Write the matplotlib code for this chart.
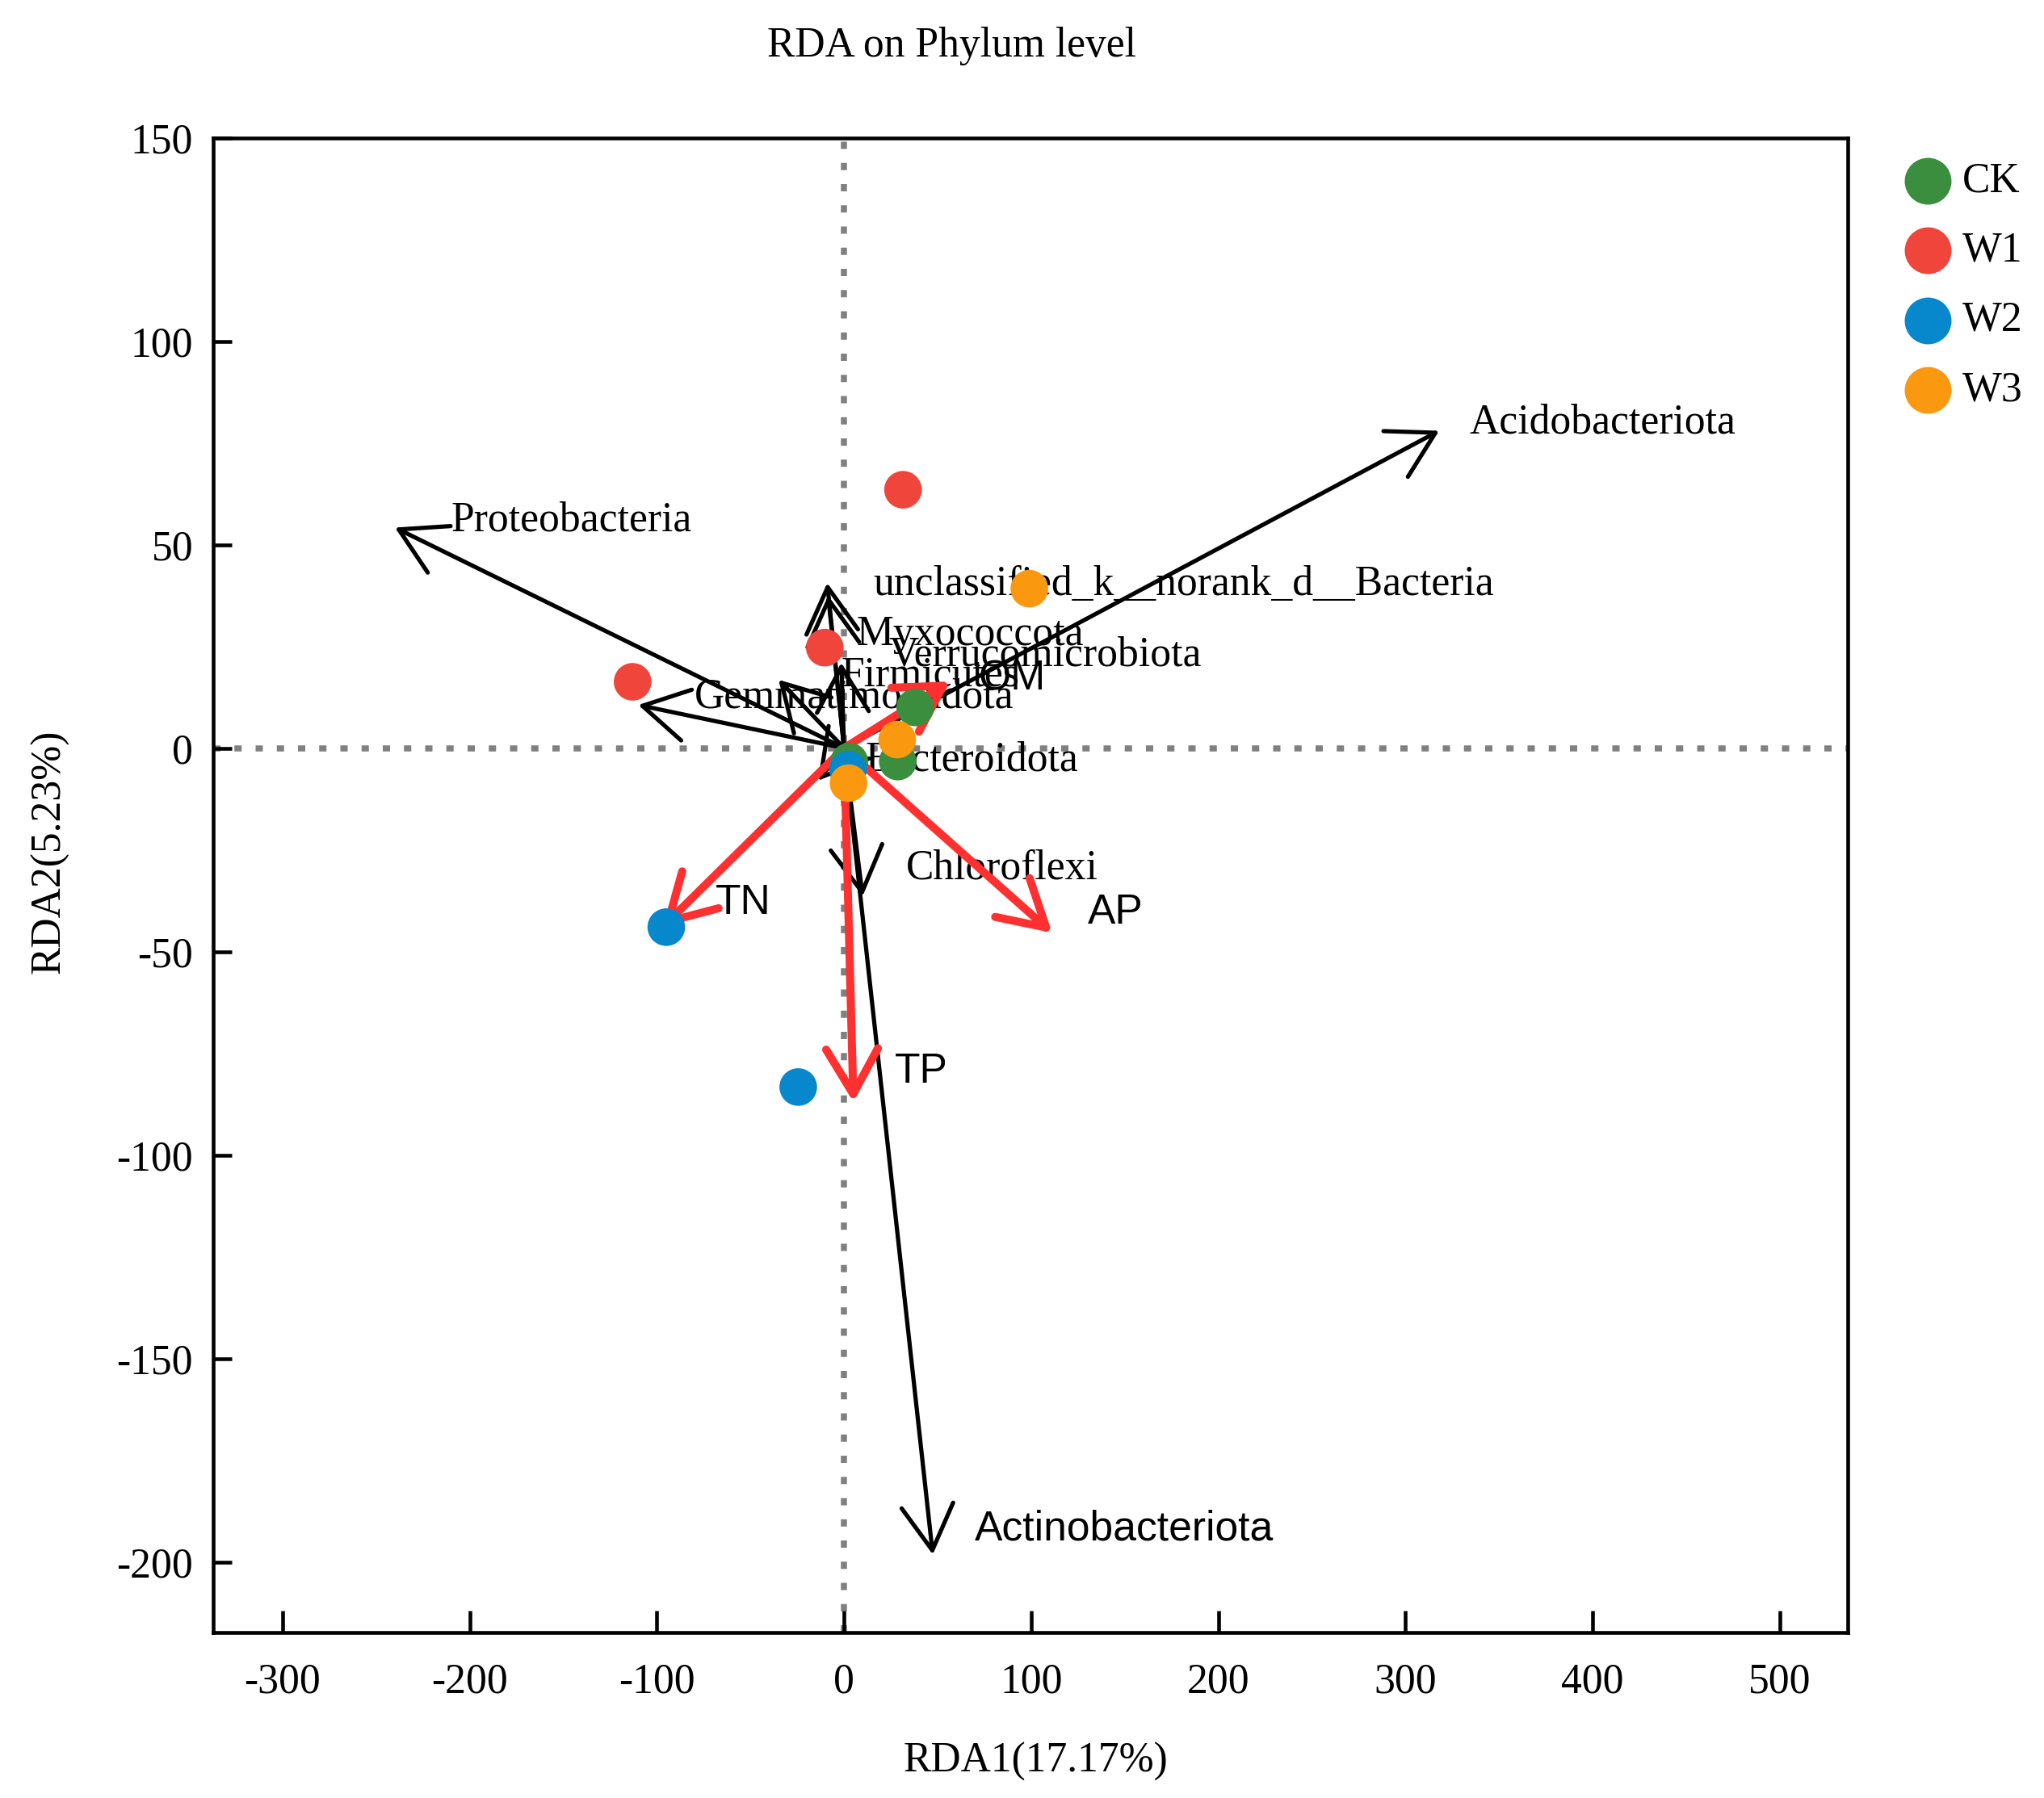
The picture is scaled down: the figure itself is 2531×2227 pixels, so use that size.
import matplotlib
matplotlib.use("Agg")
import matplotlib.pyplot as plt
from matplotlib.patches import FancyArrowPatch, ArrowStyle
from matplotlib.lines import Line2D

plt.rcParams["axes.unicode_minus"] = False

SERIF = "Liberation Serif"
SANS = "Liberation Sans"
FS = 12.4

# species scores (black arrows)
species = ["Acidobacteriota", "Proteobacteria", "Actinobacteriota", "Chloroflexi",
           "Gemmatimonadota", "Bacteroidota", "Myxococcota", "Verrucomicrobiota",
           "Firmicutes", "unclassified_k__norank_d__Bacteria"]
sp_x = [318, -240, 47.4, 9.9, -110, -14, -8.5, -1.5, -35, -9]
sp_y = [78, 54.2, -198.2, -36.4, 10.6, -8, 37.5, 21, 16.8, 40.6]

# environmental factors (red arrows)
env = ["TN", "TP", "AP", "OM"]
env_x = [-97, 5.0, 111.2, 56.7]
env_y = [-44, -87, -45.4, 16.4]

# samples
groups = ["CK", "W1", "W2", "W3"]
ck_x = [38, 28.7, 2.8]
ck_y = [10, -3.3, -3.3]
w1_x = [31.5, -10.3, -113]
w1_y = [63.5, 24.7, 16.3]
w2_x = [-95, -24.5, 2.1]
w2_y = [-44, -83.3, -5.3]
w3_x = [99, 28.4, 2.4]
w3_y = [39.2, 2.1, -8.6]

colors = {"CK": "#3A8E3D", "W1": "#F0453A", "W2": "#0787CC", "W3": "#FA990F"}

# label nudges (data units, from arrow tip)
sp_nudge = {"Acidobacteriota": (16, 2), "Proteobacteria": (30, 1.8),
            "Actinobacteriota": (22.3, 6.2), "Chloroflexi": (23.1, 6.9),
            "Gemmatimonadota": (30, 1.9), "Bacteroidota": (25.4, 5),
            "Myxococcota": (14.9, -9.5), "Verrucomicrobiota": (25.2, 1.8),
            "Firmicutes": (33.5, 1), "unclassified_k__norank_d__Bacteria": (24.5, -0.3)}
env_nudge = {"TN": (28.4, 5.9), "TP": (22.2, 7.5), "AP": (18.8, 5.0), "OM": (14.9, 0.6)}

fig = plt.figure(figsize=(2531 / 300, 2227 / 300), dpi=300)
ax = fig.add_axes([0.10431, 0.09219, 0.79976, 0.83116])
ax.set_xlim(-337.1, 536.4)
ax.set_ylim(-217.3, 150)

ax.axhline(0, color="#808080", lw=1.8, dashes=(1.2, 2.3), zorder=1)
ax.axvline(0, color="#808080", lw=1.8, dashes=(1.2, 2.3), zorder=1)

head = ArrowStyle("->", head_length=13.4, head_width=7.7)

for name, x, y in zip(species, sp_x, sp_y):
    arr = FancyArrowPatch((0, 0), (x, y), arrowstyle=head, mutation_scale=1,
                          shrinkA=0, shrinkB=0, lw=1.25, color="black", zorder=2)
    ax.add_patch(arr)
    dx, dy = sp_nudge[name]
    fam = SANS if name == "Actinobacteriota" else SERIF
    ax.text(x + dx, y + dy, name, family=fam, fontsize=FS, ha="left",
            va="center", zorder=3)

for name, x, y in zip(env, env_x, env_y):
    arr = FancyArrowPatch((0, 0), (x, y), arrowstyle=head, mutation_scale=1,
                          shrinkA=0, shrinkB=0, lw=2.4, color="#FF3030", zorder=4)
    ax.add_patch(arr)
    dx, dy = env_nudge[name]
    ax.text(x + dx, y + dy, name, family=SANS, fontsize=FS, ha="left",
            va="center", zorder=5)

pts = {"CK": (ck_x, ck_y), "W1": (w1_x, w1_y), "W2": (w2_x, w2_y), "W3": (w3_x, w3_y)}
for g in groups:
    ax.scatter(pts[g][0], pts[g][1], s=125, color=colors[g], edgecolors="none",
               zorder=6)

ax.set_xticks([-300, -200, -100, 0, 100, 200, 300, 400, 500])
ax.set_yticks([-200, -150, -100, -50, 0, 50, 100, 150])
ax.tick_params(axis="x", direction="in", length=6.4, width=1.1, pad=9, labelsize=FS)
ax.tick_params(axis="y", direction="in", length=5.5, width=1.1, pad=6, labelsize=FS)
for lab in ax.get_xticklabels() + ax.get_yticklabels():
    lab.set_family(SERIF)
for sp in ax.spines.values():
    sp.set_linewidth(1.1)

ax.set_xlabel("RDA1(17.17%)", family=SERIF, fontsize=FS)
ax.xaxis.set_label_coords(0.503, -0.0866)
ax.xaxis.label.set_va("center")
ax.set_ylabel("RDA2(5.23%)", family=SERIF, fontsize=FS)
ax.yaxis.set_label_coords(-0.0999, 0.5225)
ax.yaxis.label.set_va("center")

fig.text(0.4657, 0.9744, "RDA on Phylum level", family=SERIF, fontsize=FS,
         ha="center", va="center")

# legend
leg_y = [0.8994, 0.8606, 0.8218, 0.7830]
for g, fy in zip(groups, leg_y):
    fig.add_artist(Line2D([0.943], [fy], marker="o", markersize=13.9, color=colors[g],
                          markeredgewidth=0, linestyle="none", transform=fig.transFigure))
    fig.text(0.9601, fy, g, family=SERIF, fontsize=FS, ha="left", va="center")

fig.savefig("out.png", dpi=300)
